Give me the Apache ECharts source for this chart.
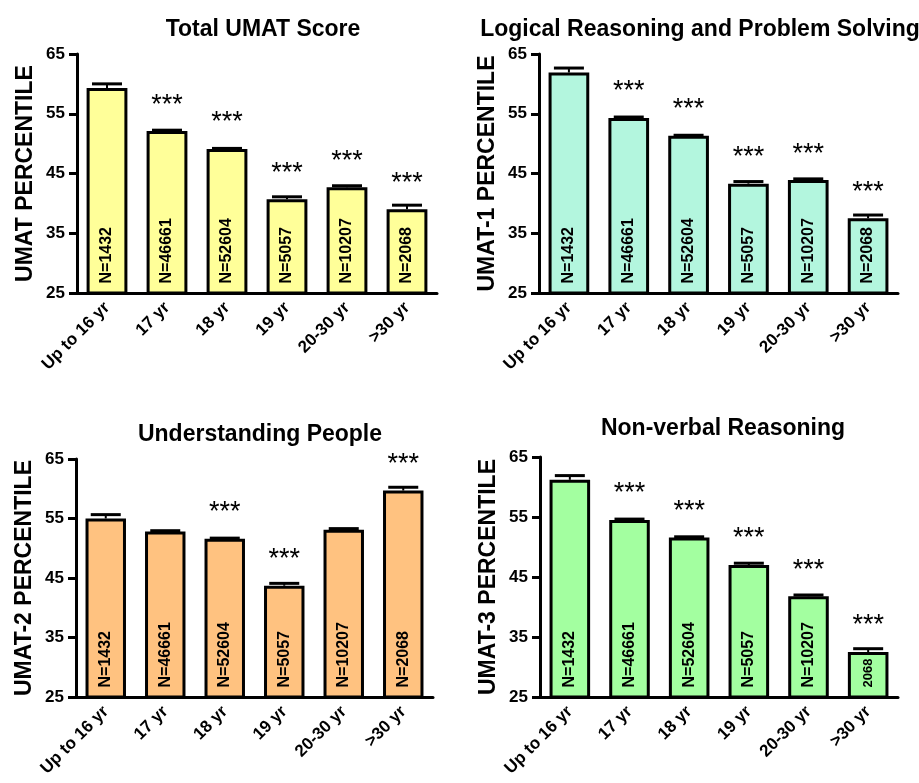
<!DOCTYPE html>
<html>
<head>
<meta charset="utf-8">
<script src="https://cdn.jsdelivr.net/npm/echarts@6/dist/echarts.min.js"></script>
<style>
html,body{margin:0;padding:0;background:#fff;}
#chart{width:919px;height:783px;}
</style>
</head>
<body>
<div id="chart"></div>
<script>
const categories = ['Up to 16 yr', '17 yr', '18 yr', '19 yr', '20-30 yr', '>30 yr'];
const nLabels = ['N=1432', 'N=46661', 'N=52604', 'N=5057', 'N=10207', 'N=2068'];
const nLabelsNonVerbal = ['N=1432', 'N=46661', 'N=52604', 'N=5057', 'N=10207', '2068'];
const yTicks = [25, 35, 45, 55, 65];

const titles = ['Total UMAT Score', 'Logical Reasoning and Problem Solving', 'Understanding People', 'Non-verbal Reasoning'];
const yNames = ['UMAT PERCENTILE', 'UMAT-1 PERCENTILE', 'UMAT-2 PERCENTILE', 'UMAT-3 PERCENTILE'];

const totalMeans = [59.3, 52.1, 49.1, 40.7, 42.7, 39.0];
const totalErr   = [0.7, 0.15, 0.1, 0.4, 0.25, 0.7];
const totalStars = ['', '***', '***', '***', '***', '***'];

const umat1Means = [61.9, 54.3, 51.3, 43.3, 43.9, 37.5];
const umat1Err   = [0.75, 0.15, 0.1, 0.35, 0.2, 0.55];
const umat1Stars = ['', '***', '***', '***', '***', '***'];

const umat2Means = [55.0, 52.8, 51.6, 43.7, 53.1, 59.7];
const umat2Err   = [0.65, 0.15, 0.1, 0.4, 0.2, 0.55];
const umat2Stars = ['', '', '***', '***', '', '***'];

const umat3Means = [61.2, 54.5, 51.6, 47.0, 41.8, 32.5];
const umat3Err   = [0.7, 0.15, 0.1, 0.3, 0.2, 0.55];
const umat3Stars = ['', '***', '***', '***', '***', '***'];

const panels = [
  {means: totalMeans, err: totalErr, stars: totalStars, n: nLabels, color: '#FFFF99'},
  {means: umat1Means, err: umat1Err, stars: umat1Stars, n: nLabels, color: '#B3F6DE'},
  {means: umat2Means, err: umat2Err, stars: umat2Stars, n: nLabels, color: '#FFC280'},
  {means: umat3Means, err: umat3Err, stars: umat3Stars, n: nLabelsNonVerbal, color: '#A3FFA0'}
];

const FONT = '"Liberation Sans", Arial, Helvetica, sans-serif';

const grids = [
  {left: 77, right: 482, top: 54, bottom: 490},
  {left: 539, right: 21, top: 54, bottom: 490},
  {left: 76, right: 486, top: 459, bottom: 86},
  {left: 540, right: 21, top: 457, bottom: 86}
];
const titlePos = [
  {x: 258, y: 13},
  {x: 695, y: 13},
  {x: 255, y: 418},
  {x: 718, y: 412}
];

const option = {
  animation: false,
  backgroundColor: '#fff',
  textStyle: {fontFamily: FONT},
  title: titles.map((t, i) => ({
    text: t, left: titlePos[i].x, top: titlePos[i].y, textAlign: 'center',
    textStyle: {fontFamily: FONT, fontSize: 23, fontWeight: 'bold', color: '#000'}
  })),
  grid: grids.map(g => Object.assign({containLabel: false}, g)),
  xAxis: panels.map((p, i) => ({
    type: 'category', gridIndex: i, data: categories,
    axisLine: {lineStyle: {color: '#000', width: 3}},
    axisTick: {alignWithLabel: true, length: 8, lineStyle: {color: '#000', width: 3}},
    axisLabel: {rotate: 45, color: '#000', fontSize: 17, fontWeight: 'bold', fontFamily: FONT, margin: 12, interval: 0},
    splitLine: {show: false}
  })),
  yAxis: panels.map((p, i) => ({
    type: 'value', gridIndex: i, min: 25, max: 65, interval: 10,
    name: yNames[i], nameLocation: 'middle', nameGap: 40, nameRotate: 90,
    nameTextStyle: {fontSize: 23, fontWeight: 'bold', color: '#000', fontFamily: FONT},
    axisLine: {show: true, lineStyle: {color: '#000', width: 3}},
    axisTick: {show: true, length: 8, lineStyle: {color: '#000', width: 3}},
    axisLabel: {color: '#000', fontSize: 17, fontWeight: 'bold', fontFamily: FONT, margin: 12,
      formatter: v => yTicks.indexOf(v) >= 0 ? String(v) : ''},
    splitLine: {show: false}
  })),
  series: []
};

panels.forEach((p, i) => {
  option.series.push({
    type: 'bar', xAxisIndex: i, yAxisIndex: i,
    barWidth: '68%',
    data: p.means.map((m, k) => ({
      value: m,
      label: {
        show: true, formatter: p.n[k],
        fontSize: p.n[k].indexOf('N=') === 0 ? 16 : 13
      }
    })),
    itemStyle: {color: p.color, borderColor: '#000', borderWidth: 3},
    label: {
      show: true, position: 'insideBottom', rotate: 90, align: 'left', verticalAlign: 'middle',
      distance: 11, color: '#000', fontWeight: 'bold', fontFamily: FONT, fontSize: 16
    },
    z: 2
  });
  option.series.push({
    type: 'custom', xAxisIndex: i, yAxisIndex: i,
    data: p.means.map((m, k) => [k, m, p.err[k]]),
    renderItem: function (params, api) {
      const k = api.value(0), m = api.value(1), e = api.value(2);
      const base = api.coord([k, m]);
      const top = api.coord([k, m + e]);
      const children = [
        {type: 'line', shape: {x1: base[0], y1: base[1], x2: top[0], y2: top[1]}, style: {stroke: '#000', lineWidth: 2}},
        {type: 'line', shape: {x1: top[0] - 15, y1: top[1], x2: top[0] + 15, y2: top[1]}, style: {stroke: '#000', lineWidth: 3}}
      ];
      const s = p.stars[params.dataIndex];
      if (s) {
        children.push({
          type: 'text', x: base[0], y: base[1] - 26,
          style: {text: s, fill: '#000', fontSize: 27, fontFamily: FONT, align: 'center', verticalAlign: 'middle'}
        });
      }
      return {type: 'group', children: children};
    },
    z: 3
  });
});

const chart = echarts.init(document.getElementById('chart'), null, {renderer: 'canvas'});
chart.setOption(option);
</script>
</body>
</html>
